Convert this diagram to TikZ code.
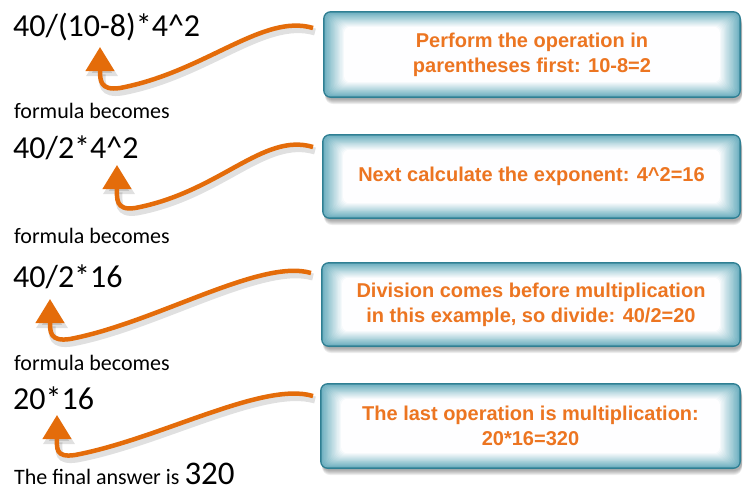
\documentclass[tikz,border=0pt]{standalone}
\usepackage{fontspec}
\setmainfont{Carlito}
\newfontfamily\arialfont{Liberation Sans}
\usetikzlibrary{arrows.meta,backgrounds}
\definecolor{arrorange}{HTML}{E46C0A}
\definecolor{txtorange}{HTML}{EC7521}
\definecolor{boxedge}{HTML}{2F7F93}
\definecolor{boxteal}{HTML}{4F9FB3}
\newcommand\glowbox[6]{%
  \node[boxtext] (#1) at ({(#2+#4)/2},{(#3+#5)/2}) {#6};
  \begin{scope}[on background layer]
    \foreach \k in {1,...,5} {\fill[black, opacity=0.07, rounded corners=8] (#2+2,#3+2+\k) rectangle (#4+1,#5+1+\k);}
    \fill[boxedge, rounded corners=8] (#2,#3) rectangle (#4,#5);
    \foreach \i in {0,...,15} {%
      \pgfmathsetmacro\p{80-\i*5.3}%
      \fill[boxteal!\p!white, rounded corners=6] (#2+1.6+\i*1.3,#3+1.6+\i*0.95) rectangle (#4-1.6-\i*1.3,#5-1.6-\i*0.95);}
  \end{scope}}
\newcommand\curvearrow[1]{%
  \draw[arrshadow] ([shift={(2,4)}]s#1) .. controls +(-50,-15) and +(85,-16) .. ([shift={(2,4)}]m#1) .. controls +(-20,3) and +(0,33) .. ([shift={(2,4)}]t#1);
  \draw[arr] (s#1) .. controls +(-50,-15) and +(85,-16) .. (m#1) .. controls +(-20,3) and +(0,33) .. (t#1);}
\begin{document}
\begin{tikzpicture}[x=1pt,y=-1pt,
  boxtext/.style={align=center, text=txtorange, font=\arialfont\bfseries\fontsize{20}{25}\selectfont},
  formula/.style={anchor=base west, inner sep=0pt, font=\fontsize{32}{36}\selectfont},
  note/.style={anchor=base west, inner sep=0pt, font=\fontsize{22}{26}\selectfont},
  arr/.style={draw=arrorange, line width=4.5pt, -{Triangle[width=28pt,length=24pt]}},
  arrshadow/.style={draw=black, opacity=0.12, line width=7pt, -{Triangle[width=30pt,length=25pt]}}]
\useasboundingbox (0,0) rectangle (744,491);

% left column texts
\node[formula] (f1) at (13,36) {40/(10-8)*4\^{}2};
\node[note] (n1) at (14,118) {formula becomes};
\node[formula] (f2) at (13,158) {40/2*4\^{}2};
\node[note] (n2) at (14,243) {formula becomes};
\node[formula] (f3) at (13,287) {40/2*16};
\node[note] (n3) at (14,370) {formula becomes};
\node[formula] (f4) at (13,409) {20*16};
\node[note] (n4) at (14,484) {The final answer is \fontsize{33}{36}\selectfont 320};

% boxes
\glowbox{b1}{323}{11}{741}{98}{Perform the operation in\\parentheses first: 10-8=2}
\glowbox{b2}{322}{134}{741}{219}{Next calculate the exponent: 4\^{}2=16}
\glowbox{b3}{321}{262}{741}{347}{Division comes before multiplication\\in this example, so divide: 40/2=20}
\glowbox{b4}{320}{383}{741}{469}{The last operation is multiplication:\\20*16=320}

% arrow points
\coordinate (s1) at (313,28);  \coordinate (m1) at (120,88);  \coordinate (t1) at (100,47);
\coordinate (s2) at (313,147); \coordinate (m2) at (135,208); \coordinate (t2) at (117,165);
\coordinate (s3) at (311,273); \coordinate (m3) at (70,339);  \coordinate (t3) at (50,299);
\coordinate (s4) at (313,396); \coordinate (m4) at (75,455);  \coordinate (t4) at (57,415);

\curvearrow{1}
\curvearrow{2}
\curvearrow{3}
\curvearrow{4}
\end{tikzpicture}
\end{document}
